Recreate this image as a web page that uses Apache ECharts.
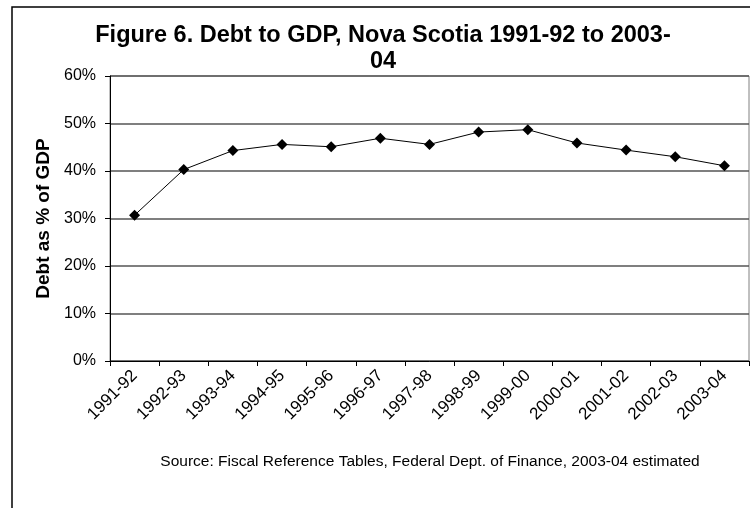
<!DOCTYPE html>
<html>
<head>
<meta charset="utf-8">
<script src="https://cdn.jsdelivr.net/npm/echarts@6/dist/echarts.min.js"></script>
<style>
html, body { margin: 0; padding: 0; background: #fff; }
#chart { width: 750px; height: 508px; }
</style>
</head>
<body>
<div id="chart"></div>
<script>
var myChart = echarts.init(document.getElementById('chart'));

var years = ['1991-92', '1992-93', '1993-94', '1994-95', '1995-96', '1996-97', '1997-98',
    '1998-99', '1999-00', '2000-01', '2001-02', '2002-03', '2003-04'];
var debtToGdp = [30.7, 40.3, 44.3, 45.6, 45.1, 46.9, 45.6, 48.2, 48.7, 45.9, 44.4, 43.0, 41.1];
var yTicks = [0, 10, 20, 30, 40, 50, 60];

var font = 'Liberation Sans, Arial, sans-serif';

option = {
    animation: false,
    backgroundColor: '#fff',
    title: {
        text: 'Figure 6. Debt to GDP, Nova Scotia 1991-92 to 2003-\n04',
        left: 383,
        top: 23,
        padding: 0,
        textAlign: 'center',
        textStyle: {
            fontFamily: font,
            fontSize: 23.5,
            fontWeight: 'bold',
            color: '#000',
            lineHeight: 26
        }
    },
    grid: {
        left: 110,
        top: 76,
        right: 1,
        bottom: 147,
        show: true,
        borderColor: '#808080',
        borderWidth: 1
    },
    xAxis: {
        type: 'category',
        data: years,
        boundaryGap: true,
        axisLine: { lineStyle: { color: '#000', width: 1 } },
        axisTick: { show: true, length: 5, lineStyle: { color: '#000' } },
        axisLabel: {
            interval: 0,
            rotate: 45,
            margin: 12,
            fontFamily: font,
            fontSize: 17,
            color: '#000'
        }
    },
    yAxis: {
        type: 'value',
        min: yTicks[0],
        max: yTicks[yTicks.length - 1],
        interval: 10,
        name: 'Debt as % of GDP',
        nameLocation: 'middle',
        nameGap: 56,
        nameTextStyle: {
            fontFamily: font,
            fontSize: 19,
            fontWeight: 'bold',
            color: '#000'
        },
        axisLine: { show: true, lineStyle: { color: '#000', width: 1 } },
        axisTick: { show: true, length: 5, lineStyle: { color: '#000' } },
        axisLabel: {
            margin: 14,
            fontFamily: font,
            fontSize: 16,
            color: '#000',
            formatter: '{value}%'
        },
        splitLine: { lineStyle: { color: '#555', width: 1.5 } }
    },
    series: [{
        type: 'line',
        data: debtToGdp,
        symbol: 'diamond',
        symbolSize: 11,
        itemStyle: { color: '#000' },
        lineStyle: { color: '#000', width: 1 }
    }],
    graphic: [{
        type: 'rect',
        shape: { x: 12, y: 7, width: 800, height: 600 },
        style: { fill: 'none', stroke: '#000', lineWidth: 1.5 },
        z: -1
    }, {
        type: 'text',
        x: 430,
        y: 462,
        style: {
            text: 'Source: Fiscal Reference Tables, Federal Dept. of Finance, 2003-04 estimated',
            fontFamily: font,
            fontSize: 15.5,
            fill: '#000',
            textAlign: 'center',
            textVerticalAlign: 'middle'
        }
    }]
};

myChart.setOption(option);
window.onresize = myChart.resize;
</script>
</body>
</html>
